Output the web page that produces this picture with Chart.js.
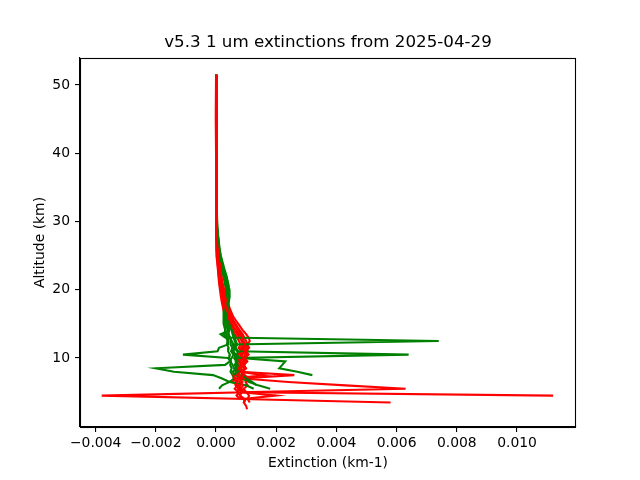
<!DOCTYPE html>
<html>
<head>
<meta charset="utf-8">
<script src="https://cdn.jsdelivr.net/npm/chart.js@4.4.1/dist/chart.umd.min.js"></script>
<style>
html,body{margin:0;padding:0;background:#fff;}
#wrap{width:640px;height:480px;}
</style>
</head>
<body>
<div id="wrap"><canvas id="c" width="640" height="480"></canvas></div>
<script>
// Shared altitude grid (km)
const altitudeKm = [51.5, 45, 40, 35, 30, 28, 26,
  25, 24, 23, 22, 21, 20, 19, 18, 17, 16,
  15.5, 15, 14.5, 14, 13.5, 13, 12.5, 12, 11.5,
  11, 10.5, 10, 9.5, 9, 8.5, 8, 7.5, 7,
  6.5, 6, 5.5, 5, 4.5, 4, 3.5, 3, 2.5];

// Red profiles (extinction, km-1)
const red1 = [0, 0, 0, 0.00001, 0.00002, 0.00003, 0.00005,
  0.00006, 0.00008, 0.00010, 0.00013, 0.00016, 0.00020, 0.00024, 0.00029, 0.00036, 0.00045,
  0.00052, 0.00060, 0.00068, 0.00075, 0.00082, 0.00088, 0.00092, 0.00095, 0.00090,
  0.00098, 0.00085, 0.00092, 0.00080, 0.00088, 0.00075, 0.00082, 0.00070, 0.00085,
  0.00078, 0.00090, 0.00082, 0.00095, -0.00380, 0.00098, 0.00092, 0.00100, 0.00103];
const red2 = [0, 0.00001, 0, 0.00001, 0.00001, 0.00002, 0.00004,
  0.00005, 0.00006, 0.00008, 0.00011, 0.00014, 0.00018, 0.00022, 0.00027, 0.00033, 0.00040,
  0.00046, 0.00053, 0.00060, 0.00068, 0.00076, 0.00083, 0.00090, 0.00098, 0.00105,
  0.00100, 0.00108, 0.00095, 0.00102, 0.00090, 0.00098, 0.00085, 0.00092, 0.00080,
  0.00088, 0.00075, 0.00085, 0.00090, 0.01120, null, null, null, null];
const red3 = [0, 0, 0.00001, 0.00001, 0.00002, 0.00004, 0.00006,
  0.00008, 0.00010, 0.00013, 0.00016, 0.00020, 0.00025, 0.00030, 0.00036, 0.00043, 0.00052,
  0.00058, 0.00065, 0.00072, 0.00080, 0.00088, 0.00094, 0.00100, 0.00104, 0.00096,
  0.00106, 0.00094, 0.00100, 0.00088, 0.00095, 0.00082, 0.00090, 0.00084, 0.00092,
  0.00240, 0.00430, 0.00630, 0.00085, 0.00080, 0.00095, null, null, null];
const red4 = [0.00001, 0, 0, 0, 0.00001, 0.00002, 0.00003,
  0.00004, 0.00005, 0.00007, 0.00009, 0.00012, 0.00015, 0.00019, 0.00024, 0.00030, 0.00037,
  0.00042, 0.00048, 0.00055, 0.00062, 0.00070, 0.00078, 0.00085, 0.00090, 0.00082,
  0.00092, 0.00080, 0.00088, 0.00076, 0.00084, 0.00070, 0.00078, 0.00160, 0.00060,
  0.00072, 0.00065, 0.00078, 0.00070, 0.00080, 0.00085, 0.00580, null, null];
const red5 = [0, 0, 0, 0, 0.00001, 0.00003, 0.00005,
  0.00007, 0.00009, 0.00012, 0.00015, 0.00019, 0.00023, 0.00028, 0.00034, 0.00041, 0.00050,
  0.00056, 0.00062, 0.00070, 0.00078, 0.00086, 0.00092, 0.00088, 0.00096, 0.00088,
  0.00095, 0.00102, 0.00090, 0.00098, 0.00086, 0.00094, 0.00080, 0.00260, 0.00078,
  0.00066, 0.00080, 0.00072, 0.00088, 0.00200, 0.00092, 0.00096, null, null];
const red6 = [0, 0, 0, 0.00001, 0.00002, 0.00004, 0.00006,
  0.00008, 0.00011, 0.00014, 0.00018, 0.00022, 0.00027, 0.00033, 0.00040, 0.00048, 0.00058,
  0.00066, 0.00074, 0.00082, 0.00090, 0.00100, 0.00108, 0.00112, 0.00104, 0.00110,
  0.00098, 0.00106, 0.00096, 0.00104, 0.00092, 0.00100, 0.00088, 0.00095, 0.00110,
  0.00098, 0.00105, 0.00092, 0.00100, 0.00110, 0.00105, 0.00112, null, null];
const red7 = [0, -0.00001, 0, 0, 0, 0.00001, 0.00002,
  0.00003, 0.00004, 0.00006, 0.00008, 0.00010, 0.00013, 0.00016, 0.00020, 0.00025, 0.00031,
  0.00036, 0.00042, 0.00048, 0.00055, 0.00062, 0.00070, 0.00076, 0.00082, 0.00075,
  0.00084, 0.00072, 0.00080, 0.00068, 0.00076, 0.00064, 0.00072, 0.00058, 0.00066,
  0.00055, 0.00070, 0.00062, 0.00075, 0.00068, 0.00080, null, null, null];

// Green profiles (extinction, km-1)
const green1 = [0, 0, 0, 0.00001, 0.00004, 0.00007, 0.00012,
  0.00016, 0.00022, 0.00028, 0.00035, 0.00040, 0.00042, 0.00040, 0.00038, 0.00036, 0.00034,
  0.00035, 0.00036, 0.00040, 0.00042, 0.00015, 0.00030, 0.00740, 0.00055, 0.00060,
  0.00058, 0.00062, 0.00070, 0.00065, 0.00072, 0.00068, 0.00075, 0.00070, null,
  null, null, null, null, null, null, null, null, null];
const green2 = [0, 0, 0.00001, 0.00002, 0.00003, 0.00006, 0.00010,
  0.00014, 0.00019, 0.00025, 0.00032, 0.00038, 0.00045, 0.00044, 0.00040, 0.00038, 0.00040,
  0.00042, 0.00045, 0.00048, 0.00052, 0.00055, 0.00058, 0.00062, 0.00066, 0.00060,
  0.00070, 0.00640, 0.00065, 0.00072, 0.00068, 0.00075, 0.00082, 0.00090, 0.00100,
  0.00120, 0.00135, null, null, null, null, null, null, null];
const green3 = [0, 0, 0, 0.00001, 0.00003, 0.00005, 0.00009,
  0.00012, 0.00017, 0.00022, 0.00028, 0.00034, 0.00038, 0.00036, 0.00033, 0.00030, 0.00028,
  0.00027, 0.00029, 0.00031, 0.00030, 0.00034, 0.00038, 0.00042, 0.00040, 0.00010,
  0.00005, -0.00110, 0.00040, 0.00048, 0.00055, 0.00060, 0.00065, 0.00080, 0.00095,
  0.00110, null, null, null, null, null, null, null, null];
const green4 = [0, 0, 0, 0, 0.00002, 0.00004, 0.00008,
  0.00011, 0.00015, 0.00020, 0.00026, 0.00031, 0.00035, 0.00034, 0.00031, 0.00029, 0.00030,
  0.00032, 0.00034, 0.00036, 0.00039, 0.00042, 0.00046, 0.00050, 0.00048, 0.00054,
  0.00050, 0.00058, 0.00052, 0.00045, 0.00030, -0.00200, -0.00140, -0.00010, 0.00020,
  0.00045, 0.00100, 0.00125, null, null, null, null, null, null];
const green5 = [0, 0, 0, 0.00001, 0.00003, 0.00006, 0.00011,
  0.00015, 0.00020, 0.00026, 0.00033, 0.00039, 0.00043, 0.00045, 0.00042, 0.00040, 0.00041,
  0.00043, 0.00046, 0.00050, 0.00054, 0.00058, 0.00062, 0.00066, 0.00070, 0.00065,
  0.00074, 0.00068, 0.00080, 0.00230, 0.00220, 0.00210, 0.00270, 0.00320, null,
  null, null, null, null, null, null, null, null, null];
const green6 = [0, 0, 0, 0, 0.00002, 0.00005, 0.00009,
  0.00013, 0.00018, 0.00024, 0.00030, 0.00036, 0.00040, 0.00038, 0.00035, 0.00033, 0.00034,
  0.00036, 0.00038, 0.00041, 0.00044, 0.00040, 0.00046, 0.00052, 0.00058, 0.00062,
  0.00056, 0.00066, 0.00060, 0.00068, 0.00062, 0.00070, 0.00055, 0.00065, 0.00085,
  0.00110, 0.00140, 0.00180, null, null, null, null, null, null];
const green7 = [0, 0, 0, 0, 0.00001, 0.00003, 0.00006,
  0.00009, 0.00013, 0.00018, 0.00024, 0.00029, 0.00033, 0.00031, 0.00028, 0.00025, 0.00024,
  0.00025, 0.00026, 0.00028, 0.00031, 0.00026, 0.00034, 0.00038, 0.00036, 0.00042,
  0.00040, 0.00046, 0.00044, 0.00050, 0.00047, 0.00052, 0.00048, 0.00055, 0.00060,
  0.00045, 0.00020, 0.00010, null, null, null, null, null, null];

const redProfiles = [red1, red2, red3, red4, red5, red6, red7];
const greenProfiles = [green1, green2, green3, green4, green5, green6, green7];

// Tick labels
const xTickValues = [-0.004, -0.002, 0.000, 0.002, 0.004, 0.006, 0.008, 0.010];
const yTickValues = [10, 20, 30, 40, 50];

const titleText = 'v5.3 1 um extinctions from 2025-04-29';
const xLabel = 'Extinction (km-1)';
const yLabel = 'Altitude (km)';

function toPoints(ext) {
  const pts = [];
  for (let i = 0; i < altitudeKm.length; i++) {
    if (ext[i] !== null && ext[i] !== undefined) pts.push({x: ext[i], y: altitudeKm[i]});
  }
  return pts;
}

const datasets = [];
for (let i = 0; i < redProfiles.length; i++) {
  datasets.push({data: toPoints(redProfiles[i]), borderColor: '#ff0000'});
  datasets.push({data: toPoints(greenProfiles[i]), borderColor: '#008000'});
}
datasets.forEach(d => {
  d.showLine = true; d.pointRadius = 0; d.borderWidth = 2.08; d.tension = 0; d.fill = false;
  d.pointHoverRadius = 0;
});

Chart.defaults.font.family = 'DejaVu Sans';
Chart.defaults.color = '#000';

const boxPlugin = {
  id: 'box',
  afterDraw(chart) {
    const a = chart.chartArea, ctx = chart.ctx;
    ctx.save();
    ctx.strokeStyle = '#000';
    ctx.lineWidth = 1.1;
    ctx.strokeRect(Math.round(a.left) + 0.5, Math.round(a.top) + 0.5,
      Math.round(a.right - a.left) - 1, Math.round(a.bottom - a.top));
    // title centred over the axes
    ctx.fillStyle = '#000';
    ctx.font = '16.7px "DejaVu Sans"';
    ctx.textAlign = 'center';
    ctx.textBaseline = 'middle';
    ctx.fillText(titleText, (a.left + a.right) / 2, 43);
    ctx.restore();
  }
};

new Chart(document.getElementById('c'), {
  type: 'scatter',
  data: {datasets},
  plugins: [boxPlugin],
  options: {
    responsive: false,
    animation: false,
    events: [],
    layout: {padding: {left: 0, right: 64, top: 58, bottom: 0}},
    plugins: {
      legend: {display: false},
      tooltip: {enabled: false},
      title: {display: false}
    },
    scales: {
      x: {
        type: 'linear', min: -0.00452, max: 0.01196,
        afterFit(s) { s.height = 53; },
        afterBuildTicks(s) { s.ticks = xTickValues.map(v => ({value: v})); },
        ticks: {
          color: '#000', font: {size: 13.9}, padding: 3, maxRotation: 0, autoSkip: false,
          callback: v => (v < -1e-12 ? '\u2212' : '') + Math.abs(v).toFixed(3)
        },
        grid: {drawOnChartArea: false, drawTicks: true, tickLength: 5, tickColor: '#000', lineWidth: 1.1},
        border: {display: true, color: '#000', width: 1.1},
        title: {display: true, text: xLabel, color: '#000', font: {size: 13.9}, padding: {top: 0, bottom: 8.5}}
      },
      y: {
        type: 'linear', min: -0.1, max: 53.95,
        afterFit(s) { s.width = 80; },
        afterBuildTicks(s) { s.ticks = yTickValues.map(v => ({value: v})); },
        ticks: {color: '#000', font: {size: 13.9}, padding: 5, autoSkip: false, callback: v => String(v)},
        grid: {drawOnChartArea: false, drawTicks: true, tickLength: 5, tickColor: '#000', lineWidth: 1.1},
        border: {display: true, color: '#000', width: 1.1},
        title: {display: true, text: yLabel, color: '#000', font: {size: 13.9}, padding: {top: 32.5, bottom: 0}}
      }
    }
  }
});
</script>
</body>
</html>
